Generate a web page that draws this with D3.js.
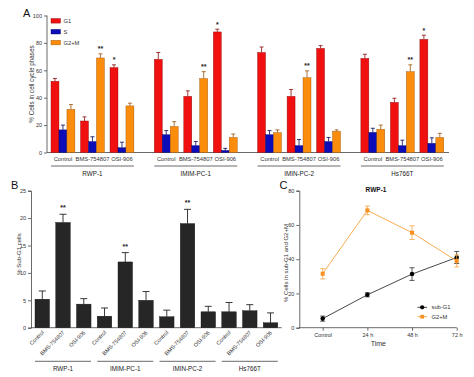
<!DOCTYPE html>
<html>
<head>
<meta charset="utf-8">
<script src="https://cdn.jsdelivr.net/npm/d3@7"></script>
<style>
  body { margin: 0; background: #fff; }
  svg { font-family: "Liberation Sans", Arial, sans-serif; }
</style>
</head>
<body>
<div id="chart"></div>
<script>
// ---- data ----
var cellLines = ["RWP-1", "IMIM-PC-1", "IMIN-PC-2", "Hs766T"];
var treatments = ["Control", "BMS-754807", "OSI-906"];
var phases = ["G1", "S", "G2+M"];

// panel A, one value per cell line x treatment
var g1Mean  = [52, 23, 62,   68, 41, 88,   73, 41, 76,   68.7, 36.6, 82.6];
var g1Err   = [2, 3, 2,      5, 4, 2,      4, 5, 2,      3, 3, 3];
var sMean   = [16.5, 8, 3.5, 13, 5, 1.5,   13, 5, 8,     14.7, 5, 6.7];
var sErr    = [3.5, 3.5, 4,  3, 3, 1.5,    3, 4.5, 3,    3, 4, 4];
var g2mMean = [31.5, 69, 34, 19, 54, 11,   14.5, 54.6, 15.5, 17, 59, 11];
var g2mErr  = [3.5, 3, 2,    3.5, 5, 2.5,  2, 5, 1,      3, 5, 3];
// significance marks per bar: [G1, S, G2+M]
var starsA  = [["", "", ""], ["", "", "**"], ["*", "", ""],
               ["", "", ""], ["", "", "**"], ["*", "", ""],
               ["", "", ""], ["", "", "**"], ["", "", ""],
               ["", "", ""], ["", "", "**"], ["*", "", ""]];

// panel B
var subG1Mean = [5.2, 19.2, 4.3,  2.1, 12.0, 5.0,  2.0, 19.0, 2.9,  2.9, 3.1, 0.9];
var subG1Err  = [1.5, 1.5, 1.0,   1.5, 1.7, 1.6,   1.2, 2.6, 1.0,   1.7, 1.1, 1.8];
var starsB    = ["", "**", "",    "", "**", "",    "", "**", "",    "", "", ""];

// panel C
var times    = ["Control", "24 h", "48 h", "72 h"];
var subG1T   = [5.3, 19.2, 31.3, 41];
var subG1TE  = [1.5, 1.2, 3.7, 3.5];
var g2mT     = [31.5, 68.5, 55.5, 39];
var g2mTE    = [3, 2.5, 4, 3.5];

var colA = {"G1": "#f01010", "S": "#0c0cb8", "G2+M": "#fb8c0c"};
var edgeA = {"G1": "#8a0a0a", "S": "#06065a", "G2+M": "#9a5208"};

var svg = d3.select("#chart").append("svg")
    .attr("width", 474).attr("height", 377);

function styleAxis(g) {
    g.selectAll("path, line").attr("stroke", "#444").attr("stroke-width", 0.8);
    g.selectAll("text").attr("font-size", "5.5px").attr("fill", "#333");
}

// ================= panel A =================
var yA = d3.scaleLinear().domain([0, 100]).range([152.5, 15.5]);
var gx = d3.scaleBand().domain(cellLines).range([51, 449.4]).paddingInner(0.143);
var tx = d3.scaleBand().domain(treatments).range([0, gx.bandwidth()]);
var px = d3.scaleBand().domain(phases).range([0, tx.step() * 0.81]);

svg.append("g").attr("transform", "translate(47,0)")
    .call(d3.axisLeft(yA).tickValues([0, 20, 40, 60, 80, 100]).tickSize(3).tickPadding(2))
    .call(styleAxis)
    .select(".domain").attr("d", "M0," + yA(100) + "V" + yA(0));
svg.append("line").attr("x1", 47).attr("x2", 449).attr("y1", yA(0)).attr("y2", yA(0))
    .attr("stroke", "#444").attr("stroke-width", 0.8);

var rowsA = [];
cellLines.forEach(function(c, ci) {
    treatments.forEach(function(t, ti) {
        var i = ci * 3 + ti;
        var vals = [g1Mean[i], sMean[i], g2mMean[i]];
        var errs = [g1Err[i], sErr[i], g2mErr[i]];
        phases.forEach(function(p, pi) {
            rowsA.push({cell: c, treat: t, phase: p, v: vals[pi], e: errs[pi], star: starsA[i][pi]});
        });
    });
});

function barX(d) { return gx(d.cell) + tx(d.treat) + px(d.phase); }

var gA = svg.append("g");
gA.selectAll("line.err").data(rowsA).enter().append("line")
    .attr("x1", function(d) { return barX(d) + px.bandwidth() / 2; })
    .attr("x2", function(d) { return barX(d) + px.bandwidth() / 2; })
    .attr("y1", function(d) { return yA(d.v); })
    .attr("y2", function(d) { return yA(d.v + d.e); })
    .attr("stroke", function(d) { return edgeA[d.phase]; }).attr("stroke-width", 0.8);
gA.selectAll("line.cap").data(rowsA).enter().append("line")
    .attr("x1", function(d) { return barX(d) + px.bandwidth() / 2 - 2; })
    .attr("x2", function(d) { return barX(d) + px.bandwidth() / 2 + 2; })
    .attr("y1", function(d) { return yA(d.v + d.e); })
    .attr("y2", function(d) { return yA(d.v + d.e); })
    .attr("stroke", function(d) { return edgeA[d.phase]; }).attr("stroke-width", 0.8);
gA.selectAll("rect").data(rowsA).enter().append("rect")
    .attr("x", barX)
    .attr("y", function(d) { return yA(d.v); })
    .attr("width", px.bandwidth())
    .attr("height", function(d) { return yA(0) - yA(d.v); })
    .attr("fill", function(d) { return colA[d.phase]; })
    .attr("stroke", function(d) { return edgeA[d.phase]; }).attr("stroke-width", 0.4);
gA.selectAll("text.star").data(rowsA.filter(function(d) { return d.star; })).enter().append("text")
    .attr("x", function(d) { return barX(d) + px.bandwidth() / 2; })
    .attr("y", function(d) { return yA(d.v + d.e) - 2.5; })
    .attr("text-anchor", "middle").attr("font-size", "7px").attr("font-weight", "bold")
    .attr("fill", "#222").text(function(d) { return d.star; });

// treatment labels and cell line brackets
cellLines.forEach(function(c) {
    treatments.forEach(function(t) {
        svg.append("text").attr("x", gx(c) + tx(t) + 12).attr("y", 161)
            .attr("text-anchor", "middle").attr("font-size", "5.8px").attr("fill", "#333").text(t);
    });
    var x0 = gx(c), x1 = gx(c) + tx("OSI-906") + px("G2+M") + px.bandwidth();
    svg.append("line").attr("x1", x0).attr("x2", x1).attr("y1", 166).attr("y2", 166)
        .attr("stroke", "#444").attr("stroke-width", 0.8);
    svg.append("text").attr("x", (x0 + x1) / 2).attr("y", 175.5)
        .attr("text-anchor", "middle").attr("font-size", "6.3px").attr("fill", "#222").text(c);
});

svg.append("text").attr("transform", "translate(33.5,84) rotate(-90)")
    .attr("text-anchor", "middle").attr("font-size", "6.3px").attr("fill", "#333")
    .text("% Cells in cell cycle phases");
svg.append("text").attr("x", 23).attr("y", 17).attr("font-size", "11px").attr("fill", "#111").text("A");

// legend
var legA = svg.append("g").attr("transform", "translate(51,18.5)");
phases.forEach(function(p, i) {
    legA.append("rect").attr("x", 0).attr("y", i * 10.9).attr("width", 9.5).attr("height", 4.6)
        .attr("fill", colA[p]).attr("stroke", edgeA[p]).attr("stroke-width", 0.4);
    legA.append("text").attr("x", 12.5).attr("y", i * 10.9 + 4.4)
        .attr("font-size", "5.8px").attr("fill", "#333").text(p);
});

// ================= panel B =================
var keysB = [];
cellLines.forEach(function(c) { treatments.forEach(function(t) { keysB.push(c + "|" + t); }); });
var rowsB = keysB.map(function(k, i) {
    return {key: k, cell: k.split("|")[0], treat: k.split("|")[1], v: subG1Mean[i], e: subG1Err[i], star: starsB[i]};
});
var yB = d3.scaleLinear().domain([0, 25]).range([327.7, 190.7]);
var bx = d3.scaleBand().domain(keysB).range([31, 281.8]).paddingInner(0.3).paddingOuter(0.193);

svg.append("g").attr("transform", "translate(31,0)")
    .call(d3.axisLeft(yB).tickValues([0, 5, 10, 15, 20, 25]).tickSize(3).tickPadding(2))
    .call(styleAxis);
svg.append("line").attr("x1", 31).attr("x2", 281.7).attr("y1", yB(0)).attr("y2", yB(0))
    .attr("stroke", "#444").attr("stroke-width", 0.8);

var gB = svg.append("g");
gB.selectAll("line.err").data(rowsB).enter().append("line")
    .attr("x1", function(d) { return bx(d.key) + bx.bandwidth() / 2; })
    .attr("x2", function(d) { return bx(d.key) + bx.bandwidth() / 2; })
    .attr("y1", function(d) { return yB(d.v); })
    .attr("y2", function(d) { return yB(d.v + d.e); })
    .attr("stroke", "#222").attr("stroke-width", 0.9);
gB.selectAll("line.cap").data(rowsB).enter().append("line")
    .attr("x1", function(d) { return bx(d.key) + bx.bandwidth() / 2 - 3.5; })
    .attr("x2", function(d) { return bx(d.key) + bx.bandwidth() / 2 + 3.5; })
    .attr("y1", function(d) { return yB(d.v + d.e); })
    .attr("y2", function(d) { return yB(d.v + d.e); })
    .attr("stroke", "#222").attr("stroke-width", 0.9);
gB.selectAll("rect").data(rowsB).enter().append("rect")
    .attr("x", function(d) { return bx(d.key); })
    .attr("y", function(d) { return yB(d.v); })
    .attr("width", bx.bandwidth())
    .attr("height", function(d) { return yB(0) - yB(d.v); })
    .attr("fill", "#262626").attr("stroke", "#111").attr("stroke-width", 0.4);
gB.selectAll("text.star").data(rowsB.filter(function(d) { return d.star; })).enter().append("text")
    .attr("x", function(d) { return bx(d.key) + bx.bandwidth() / 2; })
    .attr("y", function(d) { return yB(d.v + d.e) - 4; })
    .attr("text-anchor", "middle").attr("font-size", "7px").attr("font-weight", "bold")
    .attr("fill", "#222").text(function(d) { return d.star; });
gB.selectAll("text.tl").data(rowsB).enter().append("text")
    .attr("transform", function(d) {
        return "translate(" + (bx(d.key) + bx.bandwidth() / 2 + 2) + ",333) rotate(-45)";
    })
    .attr("text-anchor", "end").attr("font-size", "5.5px").attr("fill", "#333")
    .text(function(d) { return d.treat; });

cellLines.forEach(function(c) {
    var x0 = bx(c + "|Control"), x1 = bx(c + "|OSI-906") + bx.bandwidth();
    svg.append("line").attr("x1", x0).attr("x2", x1).attr("y1", 361.3).attr("y2", 361.3)
        .attr("stroke", "#444").attr("stroke-width", 0.8);
    svg.append("text").attr("x", (x0 + x1) / 2).attr("y", 370.5)
        .attr("text-anchor", "middle").attr("font-size", "6.3px").attr("fill", "#222").text(c);
});
svg.append("text").attr("transform", "translate(20.5,254) rotate(-90)")
    .attr("text-anchor", "middle").attr("font-size", "6px").attr("fill", "#333").text("% Sub-G1 cells");
svg.append("text").attr("x", 11).attr("y", 188.5).attr("font-size", "11px").attr("fill", "#111").text("B");

// ================= panel C =================
var yC = d3.scaleLinear().domain([0, 80]).range([327.7, 190.7]);
var xC = d3.scalePoint().domain(times).range([322.7, 456.7]);

svg.append("g").attr("transform", "translate(299.3,0)")
    .call(d3.axisLeft(yC).tickValues([0, 20, 40, 60, 80]).tickSize(3).tickPadding(2))
    .call(styleAxis);
var axC = svg.append("g").attr("transform", "translate(0," + yC(0) + ")")
    .call(d3.axisBottom(xC).tickSize(3).tickPadding(2))
    .call(styleAxis);
axC.select(".domain").attr("d", "M299.3,0H456.7");

var seriesC = [
    {name: "sub-G1", mean: subG1T, err: subG1TE, line: "#333", fill: "#000", shape: d3.symbolCircle},
    {name: "G2+M", mean: g2mT, err: g2mTE, line: "#f5a340", fill: "#f7901e", shape: d3.symbolSquare}
];
seriesC.forEach(function(s) {
    var pts = times.map(function(t, i) { return {t: t, v: s.mean[i], e: s.err[i]}; });
    var g = svg.append("g");
    g.append("path").datum(pts)
        .attr("d", d3.line().x(function(d) { return xC(d.t); }).y(function(d) { return yC(d.v); }))
        .attr("fill", "none").attr("stroke", s.line).attr("stroke-width", 0.9);
    g.selectAll("line.err").data(pts).enter().append("line")
        .attr("x1", function(d) { return xC(d.t); }).attr("x2", function(d) { return xC(d.t); })
        .attr("y1", function(d) { return yC(d.v - d.e); }).attr("y2", function(d) { return yC(d.v + d.e); })
        .attr("stroke", s.line).attr("stroke-width", 0.8);
    [-1, 1].forEach(function(sign) {
        g.selectAll("line.cap" + sign).data(pts).enter().append("line")
            .attr("x1", function(d) { return xC(d.t) - 2.5; }).attr("x2", function(d) { return xC(d.t) + 2.5; })
            .attr("y1", function(d) { return yC(d.v + sign * d.e); }).attr("y2", function(d) { return yC(d.v + sign * d.e); })
            .attr("stroke", s.line).attr("stroke-width", 0.8);
    });
    g.selectAll("path.pt").data(pts).enter().append("path")
        .attr("transform", function(d) { return "translate(" + xC(d.t) + "," + yC(d.v) + ")"; })
        .attr("d", d3.symbol().type(s.shape).size(16))
        .attr("fill", s.fill);
});

// legend C
seriesC.forEach(function(s, i) {
    var ly = 307.3 + i * 9.4;
    svg.append("line").attr("x1", 417.5).attr("x2", 427).attr("y1", ly).attr("y2", ly)
        .attr("stroke", s.line).attr("stroke-width", 0.9);
    svg.append("path").attr("transform", "translate(422.2," + ly + ")")
        .attr("d", d3.symbol().type(s.shape).size(14)).attr("fill", s.fill);
    svg.append("text").attr("x", 431.5).attr("y", ly + 2)
        .attr("font-size", "5.8px").attr("fill", "#333").text(s.name);
});

svg.append("text").attr("x", 378.3).attr("y", 345.5).attr("text-anchor", "middle")
    .attr("font-size", "7px").attr("fill", "#333").text("Time");
svg.append("text").attr("x", 376).attr("y", 191.5).attr("text-anchor", "middle")
    .attr("font-size", "6.5px").attr("font-weight", "bold").attr("fill", "#111").text("RWP-1");
svg.append("text").attr("transform", "translate(288,263) rotate(-90)")
    .attr("text-anchor", "middle").attr("font-size", "6px").attr("fill", "#333")
    .text("% Cells in sub-G1 and G2+M");
svg.append("text").attr("x", 279.5).attr("y", 188.5).attr("font-size", "11px").attr("fill", "#111").text("C");
</script>
</body>
</html>
